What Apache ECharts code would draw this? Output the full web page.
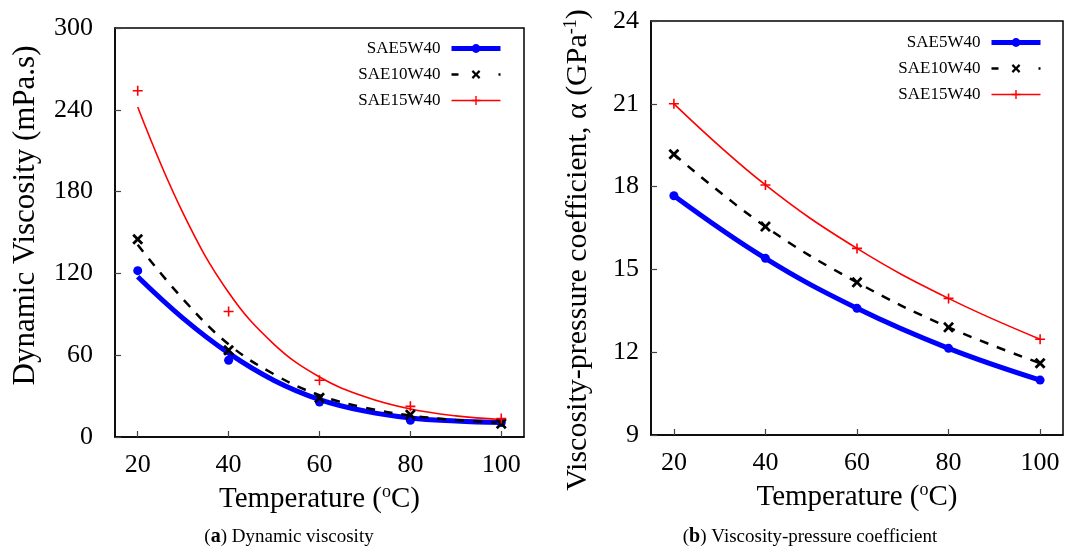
<!DOCTYPE html>
<html>
<head>
<meta charset="utf-8">
<script src="https://cdn.jsdelivr.net/npm/echarts@6/dist/echarts.min.js"></script>
<style>
html,body{margin:0;padding:0;background:#fff;}
#chart{width:1068px;height:552px;}
</style>
</head>
<body>
<div id="chart"></div>
<script>
// ---- data ----
const seriesNames = ['SAE5W40', 'SAE10W40', 'SAE15W40'];
const temps = [20, 40, 60, 80, 100];
const xTickValues = [20, 40, 60, 80, 100];

// (a) measured dynamic viscosity (mPa.s)
const visc5 = [122, 56.3, 25.7, 12.3, 10.6];
const visc10 = [145, 63.7, 28.7, 16.4, 9.8];
const visc15 = [254, 92, 41.6, 22.5, 13.5];

// (a) fitted curves at these temperatures
const fitTemps = [20, 30, 40, 50, 60, 70, 80, 90, 100];
const fit5 = [117.5, 87, 61.5, 41.5, 27.5, 19, 14, 11.8, 10.6];
const fit10 = [141, 101, 68, 46, 30.6, 21.5, 15.8, 12.5, 10.3];
const fit15 = [242, 164, 106, 68, 44, 29.5, 20.5, 15.5, 12.8];

// (b) viscosity-pressure coefficient (GPa^-1)
const alpha5 = [17.67, 15.40, 13.59, 12.14, 10.99];
const alpha10 = [19.17, 16.55, 14.53, 12.90, 11.60];
const alpha15 = [21.0, 18.06, 15.76, 13.95, 12.47];

// ---- styling ----
const FONT = '"Liberation Serif", "Times New Roman", serif';
const BLUE = '#0000ff', BLACK = '#000000', RED = '#ff0000';
const X_SYM = 'path://M0,1.8 L1.8,0 L5,3.2 L8.2,0 L10,1.8 L6.8,5 L10,8.2 L8.2,10 L5,6.8 L1.8,10 L0,8.2 L3.2,5 Z';
const PLUS_SYM = 'path://M4.2,0H5.8V4.2H10V5.8H5.8V10H4.2V5.8H0V4.2H4.2Z';

const pairs = (xs, ys) => xs.map((x, i) => [x, ys[i]]);

const styles = [
  {color: BLUE, width: 5, type: 'solid', symbol: 'circle', size: 9},
  {color: BLACK, width: 2.5, type: [9, 9], symbol: X_SYM, size: 11},
  {color: RED, width: 1.6, type: 'solid', symbol: PLUS_SYM, size: 10}
];

function xAxisCfg(gridIndex) {
  return {
    type: 'value', gridIndex, min: 15, max: 105, interval: 5,
    name: 'Temperature ({sup|o}C)', nameLocation: 'middle', nameGap: 34,
    nameTextStyle: {fontFamily: FONT, fontSize: 29, color: '#000',
      rich: {sup: {fontFamily: FONT, fontSize: 18, color: '#000', padding: [0, 0, 15, 0]}}},
    axisLine: {show: true, onZero: false, lineStyle: {color: '#000', width: 1.5}},
    axisTick: {show: true, inside: true, length: 6, customValues: xTickValues, lineStyle: {color: '#444', width: 1.2}},
    axisLabel: {customValues: xTickValues, fontFamily: FONT, fontSize: 26, color: '#000', margin: 15},
    splitLine: {show: false}
  };
}

function yAxisCfg(gridIndex, min, max, interval, name, nameGap, margin, fontSize, rich, padding) {
  return {
    type: 'value', gridIndex, min, max, interval,
    name, nameLocation: 'middle', nameGap, nameRotate: 90,
    nameTextStyle: {fontFamily: FONT, fontSize, color: '#000', rich, padding},
    axisLine: {show: true, onZero: false, lineStyle: {color: '#000', width: 1.5}},
    axisTick: {show: true, inside: true, length: 6, lineStyle: {color: '#444', width: 1.2}},
    axisLabel: {fontFamily: FONT, fontSize: 26, color: '#000', margin},
    splitLine: {show: false}
  };
}

const series = [];
const viscData = [visc5, visc10, visc15];
const fitData = [fit5, fit10, fit15];
const alphaData = [alpha5, alpha10, alpha15];

seriesNames.forEach((nm, i) => {
  const st = styles[i];
  // fitted curve (a)
  series.push({
    name: nm, type: 'line', xAxisIndex: 0, yAxisIndex: 0,
    data: pairs(fitTemps, fitData[i]), smooth: 0.4,
    symbol: st.symbol, symbolSize: st.size, showSymbol: false,
    lineStyle: {color: st.color, width: st.width, type: st.type},
    itemStyle: {color: st.color}, z: 2 + i, silent: true
  });
  // measured points (a)
  series.push({
    name: nm + ' data', type: 'scatter', xAxisIndex: 0, yAxisIndex: 0,
    data: pairs(temps, viscData[i]), symbol: st.symbol, symbolSize: st.size,
    itemStyle: {color: st.color, opacity: 1}, z: 5 + i, silent: true
  });
  // (b)
  series.push({
    name: nm, type: 'line', xAxisIndex: 1, yAxisIndex: 1,
    data: pairs(temps, alphaData[i]), smooth: 0.4,
    symbol: st.symbol, symbolSize: st.size, showSymbol: true,
    lineStyle: {color: st.color, width: st.width, type: st.type},
    itemStyle: {color: st.color, opacity: 1}, z: 2 + i, silent: true
  });
});

const legendData = [
  {name: 'SAE5W40', lineStyle: {width: 5, color: BLUE}},
  {name: 'SAE10W40', lineStyle: {width: 2.5, color: BLACK, type: [7, 40]}},
  {name: 'SAE15W40', lineStyle: {width: 1.6, color: RED}}
];

const legendCommon = {
  data: legendData, orient: 'vertical', align: 'right',
  itemWidth: 49, itemHeight: 11, itemGap: 9,
  textStyle: {fontFamily: FONT, fontSize: 17, color: '#000', lineHeight: 17, padding: [0, 6, 0, 0]},
  selectedMode: false, inactiveColor: '#000'
};

const option = {
  animation: false,
  backgroundColor: '#fff',
  grid: [
    {left: 115, top: 28, width: 409, height: 409, show: true, borderColor: '#000', borderWidth: 1.5, backgroundColor: 'transparent'},
    {left: 651, top: 21, width: 412, height: 414, show: true, borderColor: '#000', borderWidth: 1.5, backgroundColor: 'transparent'}
  ],
  xAxis: [xAxisCfg(0), xAxisCfg(1)],
  yAxis: [
    yAxisCfg(0, 0, 300, 60, 'Dynamic Viscosity (mPa.s)', 74, 22, 31, {}, [0, 0, 0, 34]),
    yAxisCfg(1, 9, 24, 3, 'Viscosity-pressure coefficient, α (GPa{sup|-1})', 56, 12, 30,
      {sup: {fontFamily: FONT, fontSize: 18, color: '#000', padding: [0, 0, 15, 0]}}, [0, 44, 0, 0])
  ],
  legend: [
    Object.assign({}, legendCommon, {right: 560, top: 35}),
    Object.assign({}, legendCommon, {right: 20, top: 29})
  ],
  series,
  graphic: [
    {type: 'text', x: 289, y: 537, style: {text: '({b|a}) Dynamic viscosity', fontFamily: FONT, fontSize: 19, fill: '#000',
      align: 'center', verticalAlign: 'middle', rich: {b: {fontFamily: FONT, fontSize: 20, fontWeight: 'bold', fill: '#000'}}}},
    {type: 'text', x: 810, y: 537, style: {text: '({b|b}) Viscosity-pressure coefficient', fontFamily: FONT, fontSize: 19, fill: '#000',
      align: 'center', verticalAlign: 'middle', rich: {b: {fontFamily: FONT, fontSize: 20, fontWeight: 'bold', fill: '#000'}}}}
  ]
};

const chart = echarts.init(document.getElementById('chart'), null, {renderer: 'canvas'});
chart.setOption(option);
</script>
</body>
</html>
